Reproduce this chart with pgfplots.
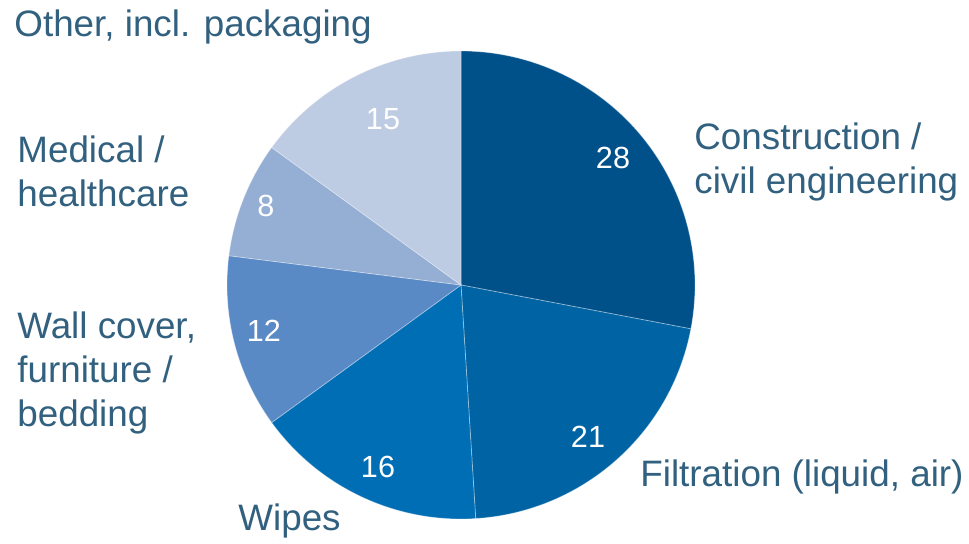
\documentclass[border=0pt]{standalone}
\usepackage{pgfplots}
\pgfplotsset{compat=1.18}
\usepackage{pgfplotstable}
\usepackage{fontspec}
\setmainfont{Liberation Sans}
\definecolor{s0}{HTML}{00518A}
\definecolor{s1}{HTML}{0063A3}
\definecolor{s2}{HTML}{006EB5}
\definecolor{s3}{HTML}{5A8AC6}
\definecolor{s4}{HTML}{94AED4}
\definecolor{s5}{HTML}{BDCBE3}
\definecolor{lbl}{HTML}{32607F}
\pgfplotstableread[col sep=comma]{
label,value
Construction,28
Filtration,21
Wipes,16
Wall,12
Medical,8
Other,15
}\piedata
\def\acc{0}%
\foreach \i in {0,...,5}{%
  \pgfplotstablegetelem{\i}{value}\of\piedata
  \pgfmathsetmacro\a{90-3.6*\acc}%
  \pgfmathsetmacro\newacc{\acc+\pgfplotsretval}%
  \pgfmathsetmacro\b{90-3.6*\newacc}%
  \expandafter\xdef\csname sA\i\endcsname{\a}%
  \expandafter\xdef\csname sB\i\endcsname{\b}%
  \xdef\acc{\newacc}%
}
\begin{document}
\begin{tikzpicture}
\begin{axis}[
  width=484.5pt, height=271.5pt, scale only axis,
  xmin=0, xmax=969, ymin=0, ymax=543,
  hide axis, clip=false,
  every node/.style={inner sep=0pt},
]
\path[draw=none] (axis cs:0,0) rectangle (axis cs:969,543);
\pgfplotsinvokeforeach{0,...,5}{
  \fill[fill=s#1, draw=white, draw opacity=0.35, line width=0.4pt]
    (axis cs:461,258) -- +(\csname sA#1\endcsname:117pt)
    arc[start angle=\csname sA#1\endcsname, end angle=\csname sB#1\endcsname, radius=117pt] -- cycle;
}
% value labels
\begin{scope}[every node/.style={text=white, font=\fontsize{15.3}{18}\selectfont}]
\node at (axis cs:613,384.7) {28};
\node at (axis cs:588,106.3) {21};
\node at (axis cs:378,76) {16};
\node at (axis cs:264,212.3) {12};
\node at (axis cs:266,337.3) {8};
\node at (axis cs:383,424) {15};
\end{scope}
% category labels
\begin{scope}[every node/.style={text=lbl, anchor=base west, inner sep=0pt, font=\fontsize{18.4}{22}\selectfont}]
\node at (axis cs:14,506.5) {Other, incl. packaging};
\node at (axis cs:17,380.5) {Medical /};
\node at (axis cs:17,337) {healthcare};
\node at (axis cs:694,394) {Construction /};
\node at (axis cs:694,350) {civil engineering};
\node at (axis cs:17,205) {Wall cover,};
\node at (axis cs:17,161) {furniture /};
\node at (axis cs:17,117) {bedding};
\node at (axis cs:640,56.5) {Filtration (liquid, air)};
\node at (axis cs:238,13) {Wipes};
\end{scope}
\end{axis}
\end{tikzpicture}
\end{document}
